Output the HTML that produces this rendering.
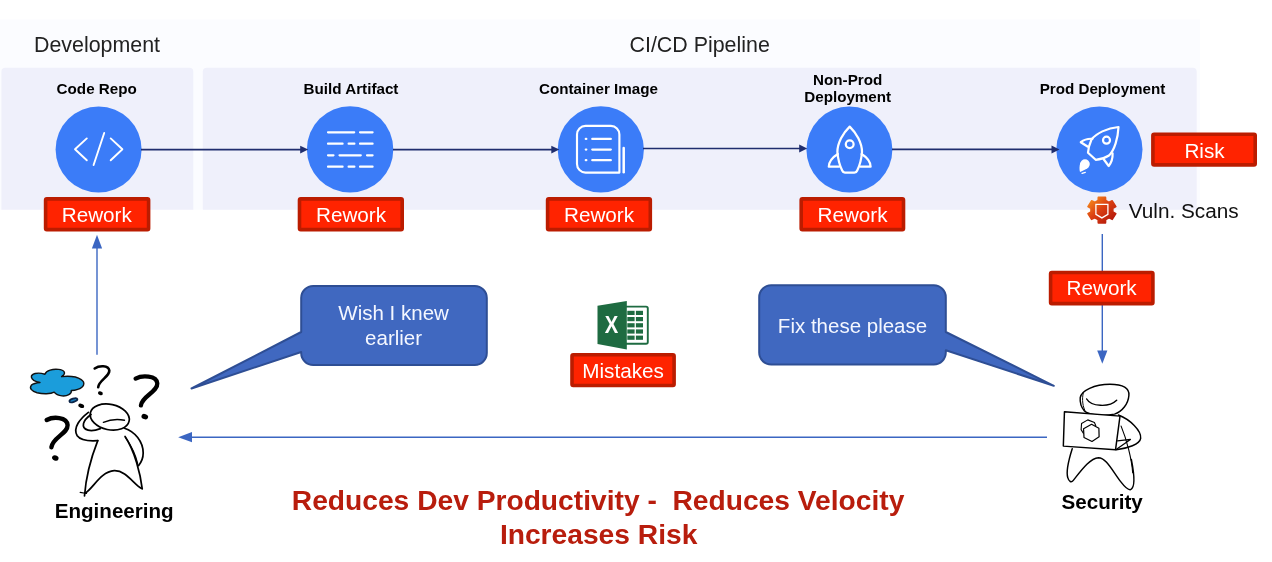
<!DOCTYPE html>
<html lang="en">
<head>
<meta charset="utf-8">
<title>Pipeline rework diagram</title>
<style>
  html,body{margin:0;padding:0;background:#fff;}
  body{width:1272px;height:562px;overflow:hidden;font-family:"Liberation Sans",Arial,sans-serif;}
  svg{display:block;position:absolute;left:0;top:0;will-change:transform;}
  text{font-family:"Liberation Sans",Arial,sans-serif;}
  .hdr{font-size:21.4px;fill:#222;}
  .lbl{font-size:15.2px;font-weight:bold;fill:#000;text-anchor:middle;}
  .tag{font-size:20.7px;fill:#fff;text-anchor:middle;}
  .bub{font-size:20.5px;fill:#f4f7ff;text-anchor:middle;}
  .who{font-size:20.6px;font-weight:bold;fill:#000;text-anchor:middle;}
  .big{font-size:28.2px;font-weight:bold;fill:#b81d0d;}
  .redbox{fill:#ff2300;stroke:#bb1c00;stroke-width:3.6;}
  .circ{fill:#3b7cf8;}
  .ico{fill:none;stroke:#fff;stroke-width:1.9;stroke-linecap:round;stroke-linejoin:round;}
  .nav{stroke:#1f2d6e;stroke-width:1.7;fill:none;}
  .blu{stroke:#3b66c2;stroke-width:1.4;fill:none;}
  .doodle{fill:none;stroke:#000;stroke-linecap:round;stroke-linejoin:round;}
</style>
</head>
<body>
<svg width="1272" height="562" viewBox="0 0 1272 562">
  <!-- background band + panels -->
  <rect x="0" y="19.500" width="1200" height="190.200" fill="#fbfcff"/>
  <path d="M1.400,209.700V71.800A4,4 0 0 1 5.400,67.800H189.300A4,4 0 0 1 193.300,71.800V209.700Z" fill="#eff0fb"/>
  <path d="M202.800,209.700V71.800A4,4 0 0 1 206.800,67.800H1192.700A4,4 0 0 1 1196.700,71.800V209.700Z" fill="#eff0fb"/>

  <!-- headers -->
  <text class="hdr" x="34" y="52.3">Development</text>
  <text class="hdr" x="629.5" y="52.3">CI/CD Pipeline</text>

  <!-- stage labels -->
  <text class="lbl" x="96.700" y="93.700">Code Repo</text>
  <text class="lbl" x="351" y="93.700">Build Artifact</text>
  <text class="lbl" x="598.5" y="93.700">Container Image</text>
  <text class="lbl" x="847.7" y="85.200">Non-Prod</text>
  <text class="lbl" x="847.7" y="102.300">Deployment</text>
  <text class="lbl" x="1102.5" y="93.700">Prod Deployment</text>

  <!-- circles -->
  <circle class="circ" cx="98.6" cy="149.5" r="43"/>
  <circle class="circ" cx="350.1" cy="149.4" r="43.2"/>
  <circle class="circ" cx="600.8" cy="149.4" r="43.1"/>
  <circle class="circ" cx="849.4" cy="149.6" r="43"/>
  <circle class="circ" cx="1099.4" cy="149.5" r="43.1"/>

  <!-- pipeline arrows -->
  <g id="pipe">
    <line class="nav" x1="141" y1="149.6" x2="301" y2="149.6"/>
    <polygon points="300.2,145.700 308.200,149.6 300.2,153.500" fill="#1f2d6e"/>
    <line class="nav" x1="393" y1="149.6" x2="552" y2="149.6"/>
    <polygon points="551.300,145.700 559.300,149.6 551.300,153.500" fill="#1f2d6e"/>
    <line class="nav" x1="643" y1="148.500" x2="800" y2="148.500"/>
    <polygon points="799.200,144.600 807.200,148.500 799.200,152.400" fill="#1f2d6e"/>
    <line class="nav" x1="892" y1="149.300" x2="1052" y2="149.300"/>
    <polygon points="1051.500,145.600 1059.500,149.500 1051.500,153.400" fill="#1f2d6e"/>
  </g>

  <!-- icon: code -->
  <g class="ico">
    <polyline points="86.8,138.4 75,149.2 86.8,160.3"/>
    <line x1="104.2" y1="133" x2="93.6" y2="165"/>
    <polyline points="110.7,138.4 122.4,149.2 110.7,160.3"/>
  </g>

  <!-- icon: build artifact -->
  <g class="ico" style="stroke-width:2.2">
    <path d="M328,132.3H354.2M360,132.3H372.6"/>
    <path d="M328,143.7H342.6M348.6,143.7H354.4M360,143.7H372.6"/>
    <path d="M328,155.3H333.5M339.5,155.3H360.8M367,155.3H372.6"/>
    <path d="M328,166.7H342.6M348.6,166.7H354.4M360,166.7H372.6"/>
  </g>

  <!-- icon: container image -->
  <g class="ico" style="stroke-width:2.150">
    <path d="M619.4,172.6H585.5A8.5,8.5 0 0 1 577,164.1V134.4A8.5,8.5 0 0 1 585.5,125.9H610.900A8.5,8.5 0 0 1 619.400,134.4Z"/>
    <path d="M623.7,148V172.2" style="stroke-width:2.5"/>
    <g style="stroke-width:2.3">
      <path d="M592.3,138.9H610.8M592.3,149.6H610.8M592.3,160.2H610.8"/>
      <path d="M585.8,138.9H586.3M585.8,149.6H586.3M585.8,160.2H586.3"/>
    </g>
  </g>

  <!-- icon: rocket (non-prod) -->
  <g class="ico" style="stroke-width:2.250">
    <path d="M849.7,126.6C843,133 837.4,143 837.4,152C838,160 840,166 842.2,170.5Q843,172.6 845,172.6H854.4Q856.4,172.6 857.2,170.5C859.4,166 861.4,160 862,152C862,143 856.4,133 849.7,126.600Z"/>
    <circle cx="849.7" cy="144.2" r="3.9"/>
    <path d="M837.8,154C833,157 829,161.500 828.8,166.7H839"/>
    <path d="M861.600,154C866.400,157 870.400,161.500 870.600,166.7H860.400"/>
  </g>

  <!-- icon: rocket (prod) -->
  <g class="ico" style="stroke-width:2.200">
    <path d="M1118.500,127C1107,128 1096,133.500 1091.500,139.500C1089.500,144 1088.300,148.500 1088,152.700L1095.700,159.800C1100,159.500 1105,158 1109,155.500C1114.500,150 1118,138 1118.500,127Z"/>
    <circle cx="1106.500" cy="140.200" r="3.500"/>
    <path d="M1092.500,138.800C1088,138.500 1083.500,140 1080.800,142.200L1087.500,146.500"/>
    <path d="M1112.600,153.300C1112.800,158 1111.500,162.500 1108.700,166L1103.500,159"/>
  </g>
  <g fill="#fff">
    <circle cx="1085" cy="164.100" r="4.800"/>
    <path d="M1080.400,162.500C1079.300,166 1079.300,169.600 1080,172C1082,170.800 1085.500,169.600 1087.500,168.200Z"/>
    <path d="M1082,173.400L1085.300,172.300" stroke="#fff" stroke-width="1.300" stroke-linecap="round"/>
  </g>

  <!-- red tags -->
  <rect class="redbox" x="45.6" y="198.9" width="103.0" height="30.7" rx="1.200"/>
  <text class="tag" x="96.8" y="222.0">Rework</text>
  <rect class="redbox" x="299.5" y="198.9" width="102.7" height="30.7" rx="1.200"/>
  <text class="tag" x="351.0" y="222.0">Rework</text>
  <rect class="redbox" x="547.6" y="198.9" width="102.7" height="30.7" rx="1.200"/>
  <text class="tag" x="599.0" y="222.0">Rework</text>
  <rect class="redbox" x="801.2" y="198.9" width="102.3" height="30.7" rx="1.200"/>
  <text class="tag" x="852.5" y="222.0">Rework</text>
  <rect class="redbox" x="1152.9" y="134.3" width="102.3" height="30.6" rx="1.200"/>
  <text class="tag" x="1204.5" y="157.6">Risk</text>

  <!-- vuln scans -->
  <defs>
    <linearGradient id="gg" gradientUnits="userSpaceOnUse" x1="-11" y1="-12" x2="10" y2="12">
      <stop offset="0" stop-color="#f58a1c"/>
      <stop offset="0.450" stop-color="#dc4112"/>
      <stop offset="1" stop-color="#b3170b"/>
    </linearGradient>
  </defs>
  <g id="gear" transform="translate(1101.900,210.100)">
    <path d="M-3.80,-9.58L-3.63,-12.88L3.63,-12.88L3.80,-9.58L7.15,-7.81L10.34,-9.32L13.97,-3.55L10.95,-1.77L10.95,1.77L13.97,3.55L10.34,9.32L7.15,7.81L3.80,9.58L3.63,12.88L-3.63,12.88L-3.80,9.58L-7.15,7.81L-10.34,9.32L-13.97,3.55L-10.95,1.77L-10.95,-1.77L-13.97,-3.55L-10.34,-9.32L-7.15,-7.81Z" fill="url(#gg)" stroke="url(#gg)" stroke-width="1.500" stroke-linejoin="round"/>
    <path d="M-6,-5.800H6V4.300L0,7.800L-6,4.300Z" fill="none" stroke="#fff" stroke-width="1.300" stroke-linejoin="miter"/>
  </g>
  <text x="1128.700" y="217.900" style="font-size:20.750px;fill:#111">Vuln. Scans</text>

  <!-- right vertical arrow with Rework -->
  <line class="blu" x1="1102.300" y1="234" x2="1102.300" y2="351"/>
  <polygon points="1097.200,350.400 1107.400,350.400 1102.300,363.800" fill="#3b66c2"/>
  <rect class="redbox" x="1050.6" y="272.5" width="102.3" height="31.1" rx="1.200"/>
  <text class="tag" x="1101.6" y="295.0">Rework</text>

  <!-- left vertical arrow -->
  <line class="blu" x1="97" y1="248" x2="97" y2="354.800"/>
  <polygon points="91.900,248.600 102.100,248.600 97,234.800" fill="#3b66c2"/>

  <!-- horizontal arrow -->
  <line class="blu" x1="191.500" y1="437.200" x2="1047" y2="437.200"/>
  <polygon points="192,432.100 192,442.300 178.200,437.200" fill="#3b66c2"/>

  <!-- speech bubbles -->
  <path d="M313.200,286H474.800A12,12 0 0 1 486.800,298V353A12,12 0 0 1 474.800,365H313.200A12,12 0 0 1 301.200,353V352L191.500,388.500L301.200,332V298A12,12 0 0 1 313.200,286Z" fill="#4068c0" stroke="#2e4e94" stroke-width="2" stroke-linejoin="round"/>
  <text class="bub" x="393.600" y="319.800">Wish I knew</text>
  <text class="bub" x="393.600" y="345.300">earlier</text>

  <path d="M771.200,285.300H933.800A12,12 0 0 1 945.800,297.300V332L1053.800,385.800L945.800,350.300V352.500A12,12 0 0 1 933.800,364.500H771.200A12,12 0 0 1 759.200,352.500V297.300A12,12 0 0 1 771.200,285.300Z" fill="#4068c0" stroke="#2e4e94" stroke-width="2" stroke-linejoin="round"/>
  <text class="bub" x="852.500" y="332.800">Fix these please</text>

  <!-- excel icon + mistakes -->
  <g id="excel">
    <rect x="624" y="306.600" width="23.800" height="37.100" rx="1.800" fill="#fff" stroke="#1e6b41" stroke-width="1.900"/>
    <g fill="#1e6b41">
      <rect x="627.300" y="310.800" width="7.300" height="4.200"/><rect x="635.900" y="310.800" width="7.100" height="4.200"/>
      <rect x="627.300" y="317" width="7.300" height="4.200"/><rect x="635.900" y="317" width="7.100" height="4.200"/>
      <rect x="627.300" y="323.200" width="7.300" height="4.200"/><rect x="635.900" y="323.200" width="7.100" height="4.200"/>
      <rect x="627.300" y="329.400" width="7.300" height="4.200"/><rect x="635.900" y="329.400" width="7.100" height="4.200"/>
      <rect x="627.300" y="335.600" width="7.300" height="4.200"/><rect x="635.900" y="335.600" width="7.100" height="4.200"/>
    </g>
    <polygon points="597.500,305.700 626.800,300.900 626.800,349.400 597.500,344.100" fill="#1e6b41"/>
    <text x="611.400" y="332.900" text-anchor="middle" textLength="13.500" lengthAdjust="spacingAndGlyphs" style="font-size:23.200px;font-weight:bold;fill:#fff">X</text>
  </g>
  <rect class="redbox" x="572.0" y="354.8" width="102.1" height="30.7" rx="1.200"/>
  <text class="tag" x="623.1" y="377.7">Mistakes</text>

  <!-- captions -->
  <text class="who" x="114.2" y="517.6">Engineering</text>
  <text class="who" x="1102.2" y="509.2">Security</text>
  <text class="big" x="291.800" y="509.900" xml:space="preserve">Reduces Dev Productivity -  Reduces Velocity</text>
  <text class="big" x="499.900" y="543.700">Increases Risk</text>

  <!-- Engineering: thought cloud (crop origin 20,360 scale 7.022) -->
  <g transform="translate(20,360) scale(0.14241)">
    <path d="M80,120C78,98 120,82 175,100C185,72 230,62 270,66C310,70 330,92 292,117C340,112 400,118 430,138C462,160 450,192 405,206C390,212 372,214 360,214C366,238 330,256 295,252C270,250 250,240 240,226C215,240 160,240 120,230C85,220 62,200 80,176C95,165 120,160 140,158C110,152 84,140 80,120Z" fill="#1b9ddb" stroke="#111" stroke-width="10" stroke-linejoin="round"/>
    <ellipse cx="375" cy="283" rx="29" ry="12" transform="rotate(-17 375 283)" fill="#1a7fc0" stroke="#0b2447" stroke-width="12"/>
    <ellipse cx="430" cy="322" rx="21" ry="14" transform="rotate(20 430 322)" fill="#000"/>
  </g>
  <!-- Engineering: question marks -->
  <g class="doodle">
    <path d="M94.700,368.500C99,365.500 108.500,365 109.300,370.500C109.800,376.500 98.500,380.500 98.200,387.200" stroke-width="2.600"/>
    <path d="M135.600,378.600C142,375.300 156.500,375.300 157.300,383.400C157.800,392 142,396 140.900,405.400" stroke-width="4.300"/>
    <path d="M46.700,420C53,416.600 67,416.600 67.600,425.200C67.900,433.500 52.500,437.500 51.400,447.200" stroke-width="4.400"/>
  </g>
  <ellipse cx="100.400" cy="393.300" rx="2.500" ry="1.800" transform="rotate(20 100.400 393.300)"/>
  <ellipse cx="144.800" cy="416.600" rx="3.400" ry="2.600" transform="rotate(20 144.800 416.600)"/>
  <ellipse cx="55.300" cy="458" rx="3.300" ry="2.600" transform="rotate(20 55.300 458)"/>
  <!-- Engineering: person (crop origin 60,395 scale 5.35) -->
  <g class="doodle" transform="translate(60,395) scale(0.18692)" stroke-width="9.200">
    <ellipse cx="266" cy="118" rx="106" ry="68" transform="rotate(12 266 118)"/>
    <path d="M232,146Q285,124 345,135" stroke-width="7.500"/>
    <path d="M152,93C110,125 66,175 92,218C115,250 170,246 202,244"/>
    <path d="M166,104C122,135 108,176 150,188C175,195 200,186 216,180"/>
    <path d="M202,244C180,300 140,420 131,540"/>
    <path d="M108,521L142,527" stroke-width="6.500"/>
    <path d="M133,526C175,505 215,410 290,405C352,402 395,478 436,500"/>
    <path d="M440,502C430,420 400,300 348,222"/>
    <path d="M345,178C400,195 445,250 445,310C445,340 435,360 420,378"/>
    <path d="M350,226C380,270 405,320 415,366" stroke-width="7"/>
  </g>
  <!-- Security: person (crop origin 1050,375 scale 4.5) -->
  <g class="doodle" transform="translate(1050,375) scale(0.22222)" stroke-width="6.600">
    <path d="M136,102C140,70 200,42 270,42C330,42 358,60 355,92C352,130 325,165 290,176C240,186 175,180 155,162C140,145 134,125 136,102Z"/>
    <path d="M150,80C142,110 148,145 160,166" stroke-width="4.300"/>
    <path d="M165,108C185,142 265,148 300,114"/>
    <path d="M65,165L315,185L295,336L60,320Z" fill="#fff"/>
    <path d="M187,222L220,240L221,278L189,299L153,281L151,242Z" stroke-width="5.500"/>
    <path d="M150,262L140,246L142,218L170,202L200,214L206,228" stroke-width="5"/>
    <path d="M296,336L362,290L304,296" stroke-width="5.500"/>
    <path d="M308,180C360,200 412,250 408,285C404,312 350,330 298,336"/>
    <path d="M320,230C345,290 368,380 372,440" stroke-width="5"/>
    <path d="M100,332C88,370 70,430 80,462C85,480 96,486 105,474C140,430 180,374 218,372C252,372 280,430 318,480C335,502 352,520 363,516C384,506 378,440 366,380"/>
  </g>
</svg>
</body>
</html>
